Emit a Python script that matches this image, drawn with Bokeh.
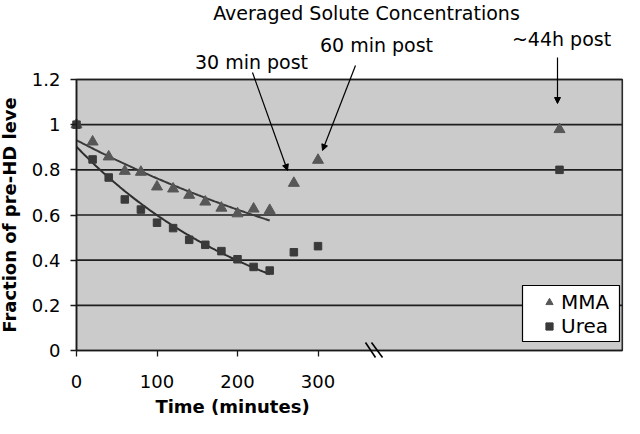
import numpy as np
from bokeh.plotting import figure
from bokeh.models import (Range1d, FixedTicker, Label, Arrow, NormalHead,
                          Legend, LegendItem, BoxAnnotation)
from bokeh.embed import file_html
from bokeh.resources import INLINE

# ---- data ----
time_min = [0, 20, 40, 60, 80, 100, 120, 140, 160, 180, 200, 220, 240, 270, 300]
mma = [1.0, 0.924, 0.858, 0.794, 0.790, 0.725, 0.716, 0.688, 0.658, 0.631,
       0.606, 0.627, 0.621, 0.741, 0.843]
urea = [1.0, 0.846, 0.766, 0.669, 0.624, 0.566, 0.542, 0.490, 0.468, 0.440,
        0.404, 0.370, 0.354, 0.435, 0.462]
post44h_mma = [0.979]
post44h_urea = [0.800]
post44h_pos = [600]          # plotted position of "~44h post" on the broken axis
n_fit = 13                   # points 0..240 min used for the exponential trendlines
x_ticks = [0, 100, 200, 300]
y_ticks = [0, 0.2, 0.4, 0.6, 0.8, 1.0, 1.2]
y_tick_labels = ["0", "0.2", "0.4", "0.6", "0.8", "1", "1.2"]
x_max = 678                  # right end of the plotting area
y_max = 1.2

FONT = "DejaVu Sans"

# exponential trendlines (least squares on log values, like Excel)
t_fit = np.array(time_min[:n_fit], dtype=float)
tt = np.linspace(t_fit[0], t_fit[-1], 120)


def expfit(vals):
    b, a = np.polyfit(t_fit, np.log(np.array(vals[:n_fit])), 1)
    return np.exp(a + b * tt)


# the frame covers the whole canvas; the grey plotting area is 0..x_max, 0..1.2
W, H = 624, 418
left_px, top_px, bottom_px = 76, 79, 350
ppu_y = (bottom_px - top_px) / y_max
ppu_x = 0.805
y_lo = -(H - bottom_px) / ppu_y
y_hi = y_max + top_px / ppu_y
x_lo = -left_px / ppu_x
x_hi = (W - left_px) / ppu_x

p = figure(width=W, height=H, x_range=Range1d(x_lo, x_hi), y_range=Range1d(y_lo, y_hi),
           output_backend="svg", toolbar_location=None, title=None,
           min_border_left=0, min_border_right=0, min_border_top=0,
           min_border_bottom=0)
p.background_fill_color = "white"
p.border_fill_color = "white"
p.outline_line_color = None
p.grid.visible = False

# grey plotting area with its border
area = p.quad(left=[0], right=[x_max], bottom=[0], top=[y_max],
              fill_color="#cbcbcb", line_color="#2a2a2a", line_width=1.6)
area.level = "image"

# horizontal gridlines across the plotting area
grid_y = y_ticks[1:]
p.segment(x0=[0] * len(grid_y), x1=[x_max] * len(grid_y), y0=grid_y, y1=grid_y,
          line_color="#1e1e1e", line_width=1.6)

p.xaxis.ticker = FixedTicker(ticks=x_ticks)
p.xaxis.fixed_location = 0
p.xaxis.bounds = (0, x_max)
p.yaxis.ticker = FixedTicker(ticks=y_ticks)
p.yaxis.fixed_location = 0
p.yaxis.bounds = (0, y_max)
p.yaxis.major_label_overrides = {t: l for t, l in zip(y_ticks, y_tick_labels)}

for ax in (p.xaxis[0], p.yaxis[0]):
    ax.major_tick_out = 6
    ax.major_tick_in = 0
    ax.minor_tick_out = 0
    ax.minor_tick_in = 0
    ax.axis_line_color = "#1a1a1a"
    ax.axis_line_width = 1.5
    ax.major_tick_line_color = "#1a1a1a"
    ax.major_tick_line_width = 1.3
    ax.major_label_text_font = FONT
    ax.major_label_text_font_size = "18px"
    ax.major_label_text_color = "black"
p.xaxis.major_label_standoff = 18
p.yaxis.major_label_standoff = 10
p.yaxis.axis_label = "Fraction of pre-HD leve"
p.yaxis.axis_label_text_font = FONT
p.yaxis.axis_label_text_font_size = "18px"
p.yaxis.axis_label_text_font_style = "bold"
p.yaxis.axis_label_text_color = "black"
p.yaxis.axis_label_standoff = 9

# trendlines
p.line(tt, expfit(mma), line_color="#3a3a3a", line_width=2)
p.line(tt, expfit(urea), line_color="#2e2e2e", line_width=2)

# points
r_mma = p.scatter(time_min + post44h_pos, mma + post44h_mma, marker="triangle",
                  size=11, fill_color="#575757", line_color="#575757")
r_urea = p.scatter(time_min + post44h_pos, urea + post44h_urea, marker="square",
                   size=7.5, fill_color="#3a3a3a", line_color="#3a3a3a")

# legend box + legend
p.add_layout(BoxAnnotation(left=522, right=619, bottom=77, top=133,
                           left_units="screen", right_units="screen",
                           top_units="screen", bottom_units="screen",
                           fill_color="white", fill_alpha=1.0,
                           line_color="black", line_width=1.2, line_alpha=1.0))
legend = Legend(items=[LegendItem(label="MMA", renderers=[r_mma]),
                       LegendItem(label="Urea", renderers=[r_urea])],
                location=(537, 80), padding=2, spacing=0, margin=0,
                glyph_width=24, glyph_height=18, label_standoff=0,
                label_width=20, label_height=18,
                label_text_font=FONT, label_text_font_size="20px",
                label_text_color="black",
                border_line_color=None, background_fill_alpha=0.0)
p.add_layout(legend)


def lab(text, x, y_center, size, bold=False):
    p.add_layout(Label(x=x, y=H - y_center, x_units="screen", y_units="screen",
                       text=text, text_font=FONT, text_font_size=size,
                       text_align="center", text_baseline="middle",
                       text_color="black",
                       text_font_style="bold" if bold else "normal"))


lab("Averaged Solute Concentrations", 366, 12, "19px")
lab("30 min post", 251, 61.5, "19px")
lab("60 min post", 376, 44, "19px")
lab("~44h post", 561, 38, "19px")
lab("Time (minutes)", 232, 406, "18px", bold=True)


def arrow(x0, y0, x1, y1, head=True, width=1.2):
    p.add_layout(Arrow(x_start=x0, y_start=H - y0, x_end=x1, y_end=H - y1,
                       start_units="screen", end_units="screen",
                       line_color="black", line_width=width,
                       end=NormalHead(size=6, fill_color="black", line_color="black")
                       if head else None))


arrow(252, 72, 287, 170)
arrow(355, 65, 322, 150)
arrow(557, 57, 557, 103)
# axis-break marks
arrow(365, 342, 375, 357, head=False, width=1.6)
arrow(371, 342, 382, 357, head=False, width=1.6)

open("out.html", "w").write(file_html(p, INLINE))
